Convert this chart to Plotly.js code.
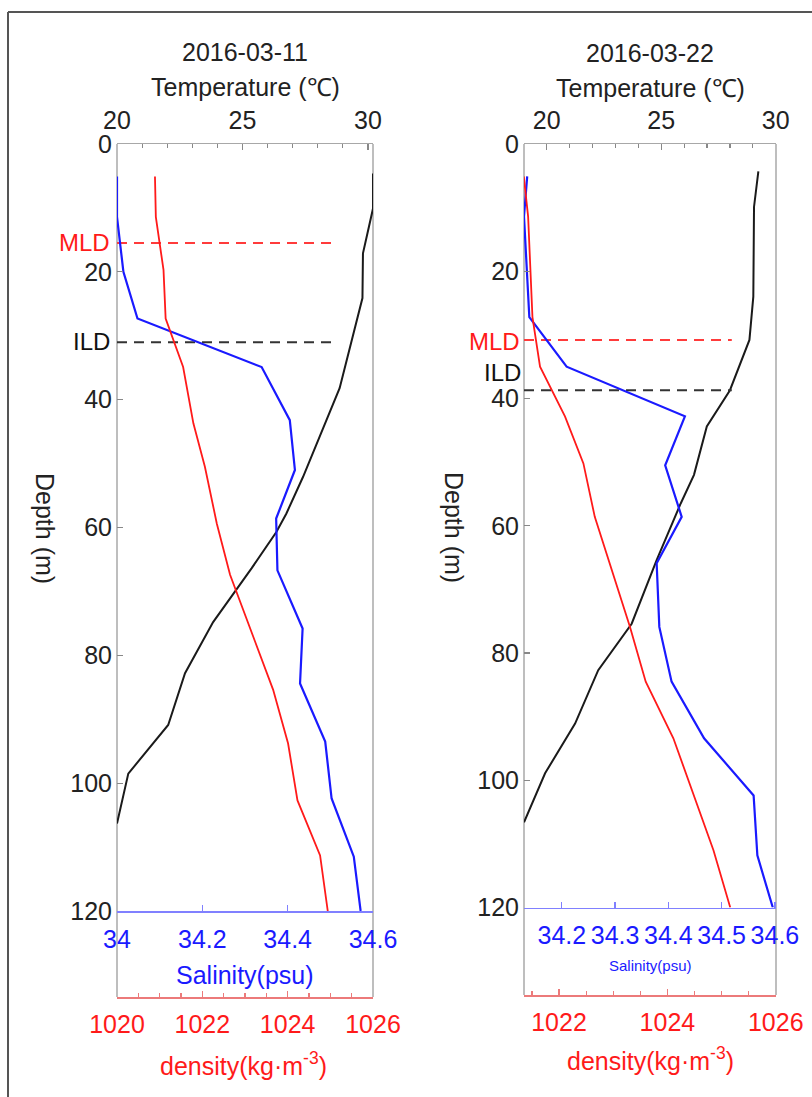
<!DOCTYPE html>
<html>
<head>
<meta charset="utf-8">
<script src="https://cdn.plot.ly/plotly-3.0.1.min.js"></script>
<style>html,body{margin:0;padding:0;background:#fff;}#chart{width:812px;height:1097px;}</style>
</head>
<body>
<div id="chart"></div>
<script>
// ---------- Data: 2016-03-11 ----------
const dates = ["2016-03-11", "2016-03-22"];
const depthTempA = [4.6, 10.1, 17.1, 24.1, 38.2, 52.1, 57.8, 60.7, 66.4, 74.8, 82.8, 90.9, 98.5, 106.3];
const tempA      = [30.2, 30.2, 29.8, 29.78, 28.87, 27.41, 26.75, 26.35, 25.36, 23.83, 22.71, 22.04, 20.45, 20.0];
const depthSalA  = [5.1, 11.4, 20, 27.3, 34.9, 43.2, 51, 58.6, 66.7, 75.8, 84.4, 93.5, 102.4, 111.5, 120];
const salA       = [34.0, 34.0, 34.015, 34.048, 34.339, 34.405, 34.417, 34.373, 34.376, 34.435, 34.429, 34.488, 34.503, 34.555, 34.571];
const depthDenA  = [5.1, 11.4, 19.7, 27.3, 34.9, 43.7, 50.5, 59.4, 67.4, 77.1, 85.4, 93.8, 102.7, 111.3, 120];
const denA       = [1020.89, 1020.91, 1021.09, 1021.14, 1021.55, 1021.79, 1022.06, 1022.34, 1022.65, 1023.19, 1023.66, 1024.01, 1024.23, 1024.76, 1024.94];
const mldA = 15.5, ildA = 31;

// ---------- Data: 2016-03-22 ----------
const depthTempB = [4.3, 9.9, 24, 30.8, 38.7, 44.4, 52, 56.5, 65.4, 75.4, 82.7, 91.1, 98.9, 106.6];
const tempB      = [29.24, 29.05, 29.02, 28.85, 28.0, 26.99, 26.43, 25.85, 24.80, 23.71, 22.25, 21.24, 19.93, 19.01];
const depthSalB  = [5.1, 11.4, 27.2, 35.0, 42.8, 50.5, 58.6, 65.9, 75.9, 84.5, 93.4, 102.4, 111.8, 120];
const salB       = [34.135, 34.129, 34.139, 34.209, 34.431, 34.394, 34.425, 34.378, 34.383, 34.406, 34.467, 34.56, 34.567, 34.596];
const depthDenB  = [5.1, 11.4, 27.2, 35.0, 42.8, 50.2, 58.6, 75.9, 84.5, 93.4, 111, 120];
const denB       = [1021.35, 1021.43, 1021.51, 1021.65, 1022.11, 1022.45, 1022.66, 1023.31, 1023.60, 1024.11, 1024.85, 1025.16];
const mldB = 30.8, ildB = 38.7;

// ---------- Axis ranges / ticks ----------
const tempRangeA = [20, 30.2], salRangeA = [34, 34.6], denRangeA = [1020, 1026];
const tempRangeB = [19.01, 30.01], salRangeB = [34.129, 34.602], denRangeB = [1021.354, 1026.004];
const lineEndA = 28.56, lineEndB = 28.08;

// ---------- Geometry (pixels -> paper) ----------
const W = 812, H = 1097;
const px = v => v / W, py = v => 1 - v / H;
const domA = [px(117), px(373)], domB = [px(524), px(776)];
const yDomA = [py(911), py(144)], yDomB = [py(907.5), py(144)];
const denPosA = py(997), denPosB = py(995);

const FONT = '"Liberation Sans", Arial, Helvetica, sans-serif';
const BLACK = '#1a1a1a', BLUE = '#1a1aff', RED = '#ff1a1a', GRAY = '#a8a8a8';
const BLUE_AX = '#8080ff', RED_AX = '#ec7a7a';

const traces = [
  // panel A
  {x: tempA, y: depthTempA, xaxis: 'x', yaxis: 'y', mode: 'lines', line: {color: BLACK, width: 2}},
  {x: salA, y: depthSalA, xaxis: 'x2', yaxis: 'y', mode: 'lines', line: {color: BLUE, width: 2.2}},
  {x: denA, y: depthDenA, xaxis: 'x3', yaxis: 'y', mode: 'lines', line: {color: RED, width: 1.8}},
  {x: [tempRangeA[0], lineEndA], y: [mldA, mldA], xaxis: 'x', yaxis: 'y', mode: 'lines', line: {color: '#ff3b3b', width: 2, dash: '10px,7px'}},
  {x: [tempRangeA[0], lineEndA], y: [ildA, ildA], xaxis: 'x', yaxis: 'y', mode: 'lines', line: {color: '#333', width: 2, dash: '10px,7px'}},
  // panel B
  {x: tempB, y: depthTempB, xaxis: 'x4', yaxis: 'y2', mode: 'lines', line: {color: BLACK, width: 2}},
  {x: salB, y: depthSalB, xaxis: 'x5', yaxis: 'y2', mode: 'lines', line: {color: BLUE, width: 2.2}},
  {x: denB, y: depthDenB, xaxis: 'x6', yaxis: 'y2', mode: 'lines', line: {color: RED, width: 1.8}},
  {x: [tempRangeB[0], lineEndB], y: [mldB, mldB], xaxis: 'x4', yaxis: 'y2', mode: 'lines', line: {color: '#ff3b3b', width: 2, dash: '10px,7px'}},
  {x: [tempRangeB[0], lineEndB], y: [ildB, ildB], xaxis: 'x4', yaxis: 'y2', mode: 'lines', line: {color: '#333', width: 2, dash: '10px,7px'}}
];

const tickFont = c => ({family: FONT, size: 25, color: c});
function tempAxis(dom, range, anchor) {
  return {domain: dom, range: range, side: 'top', anchor: anchor, tick0: 20, dtick: 5,
    ticks: 'inside', ticklen: 6, tickcolor: '#888', tickwidth: 1.2,
    minor: {dtick: 1, ticks: 'inside', ticklen: 4, tickcolor: '#888', tickwidth: 1.2},
    showline: true, linecolor: GRAY, linewidth: 1.5, showgrid: false, zeroline: false,
    tickfont: tickFont('#222'), ticklabelstandoff: 4, fixedrange: true};
}
function salAxis(dom, range, anchor, overlay, dt) {
  return {domain: dom, range: range, side: 'bottom', anchor: anchor, overlaying: overlay,
    tick0: 34, dtick: dt, ticks: 'inside', ticklen: 6, tickcolor: BLUE_AX, tickwidth: 1.2,
    showline: true, linecolor: BLUE_AX, linewidth: 1.5, showgrid: false, zeroline: false,
    tickfont: tickFont(BLUE), ticklabelstandoff: 5, fixedrange: true};
}
function denAxis(dom, range, pos, overlay) {
  return {domain: dom, range: range, side: 'bottom', anchor: 'free', position: pos, overlaying: overlay,
    tick0: 1020, dtick: 2, ticks: 'inside', ticklen: 6, tickcolor: RED_AX, tickwidth: 1.2,
    minor: {dtick: 0.5, ticks: 'inside', ticklen: 4, tickcolor: RED_AX, tickwidth: 1.2},
    showline: true, linecolor: RED_AX, linewidth: 1.5, showgrid: false, zeroline: false,
    tickfont: tickFont(RED), ticklabelstandoff: 4, fixedrange: true};
}
function depthAxis(dom, anchor) {
  return {domain: dom, range: [120, 0], anchor: anchor, dtick: 20, tick0: 0,
    ticks: 'inside', ticklen: 6, tickcolor: '#888', tickwidth: 1.2,
    showline: false, showgrid: false, zeroline: false,
    tickfont: tickFont('#222'), ticklabelstandoff: 4, fixedrange: true};
}

const frame = [];
[[domA, yDomA, denPosA], [domB, yDomB, denPosB]].forEach(([d, yd, pos]) => {
  d.forEach(xv => frame.push({type: 'line', xref: 'paper', yref: 'paper', x0: xv, x1: xv, y0: pos, y1: yd[1],
    line: {color: GRAY, width: 1.5}, layer: 'below'}));
});
// outer figure border (top and left)
frame.push({type: 'line', xref: 'paper', yref: 'paper', x0: px(8), x1: 1, y0: py(12), y1: py(12), line: {color: '#555', width: 2}});
frame.push({type: 'line', xref: 'paper', yref: 'paper', x0: px(8), x1: px(8), y0: py(12), y1: 0, line: {color: '#555', width: 2}});

function ann(text, x, y, size, color, extra) {
  return Object.assign({text: text, x: x, y: y, xref: 'paper', yref: 'paper', showarrow: false,
    xanchor: 'center', yanchor: 'middle', font: {family: FONT, size: size, color: color}}, extra || {});
}
const annotations = [
  ann(dates[0], px(245), py(52), 25, '#222'),
  ann('Temperature (℃)', px(245), py(87), 25, '#222'),
  ann(dates[1], px(650), py(53), 25, '#222'),
  ann('Temperature (℃)', px(650), py(88), 25, '#222'),
  ann('Salinity(psu)', px(245), py(975), 25, BLUE),
  ann('Salinity(psu)', px(650), py(965), 15, BLUE),
  ann('density(kg·m<sup>-3</sup>)', px(243), py(1064), 25, RED),
  ann('density(kg·m<sup>-3</sup>)', px(650), py(1059), 25, RED),
  ann('Depth (m)', px(45), py(528), 25, '#222', {textangle: 90}),
  ann('Depth (m)', px(454), py(527), 25, '#222', {textangle: 90}),
  ann('MLD', px(112), py(243), 24, RED, {xanchor: 'right'}),
  ann('ILD', px(112), py(342), 24, '#111', {xanchor: 'right'}),
  ann('MLD', px(522), py(341), 24, RED, {xanchor: 'right'}),
  ann('ILD', px(523), py(373), 24, '#111', {xanchor: 'right'})
];

const layout = {
  width: W, height: H, margin: {l: 0, r: 0, t: 0, b: 0},
  paper_bgcolor: '#fff', plot_bgcolor: 'rgba(0,0,0,0)', showlegend: false,
  font: {family: FONT, color: '#222'},
  xaxis: tempAxis(domA, tempRangeA, 'y'),
  xaxis2: salAxis(domA, salRangeA, 'y', 'x', 0.2),
  xaxis3: denAxis(domA, denRangeA, denPosA, 'x'),
  xaxis4: tempAxis(domB, tempRangeB, 'y2'),
  xaxis5: salAxis(domB, salRangeB, 'y2', 'x4', 0.1),
  xaxis6: denAxis(domB, denRangeB, denPosB, 'x4'),
  yaxis: depthAxis(yDomA, 'x'),
  yaxis2: depthAxis(yDomB, 'x4'),
  shapes: frame,
  annotations: annotations
};

Plotly.newPlot('chart', traces, layout, {staticPlot: true, displayModeBar: false});
</script>
</body>
</html>
